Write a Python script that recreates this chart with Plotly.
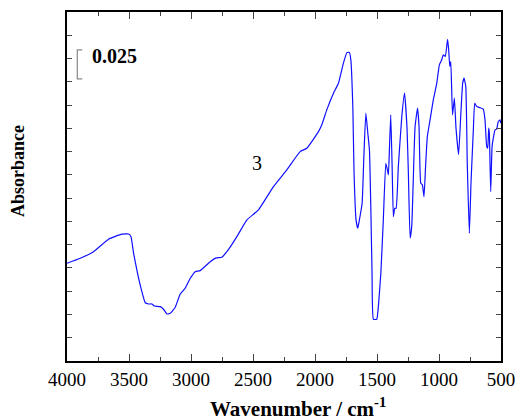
import plotly.graph_objects as go

wavenumber = [4000, 3893, 3786, 3665, 3557, 3504, 3484, 3463, 3431, 3396, 3369, 3342, 3315, 3296,
              3248, 3222, 3194, 3168, 3127, 3087, 3047, 3006, 2966, 2926, 2845, 2797, 2751, 2700,
              2630, 2549, 2456, 2335, 2227, 2120, 2066, 1972, 1945, 1905, 1851, 1811, 1771, 1743,
              1723, 1711, 1695, 1685, 1669, 1655, 1642, 1620, 1606, 1590, 1574, 1561, 1550, 1540,
              1529, 1502, 1489, 1469, 1449, 1429, 1416, 1408, 1400, 1389, 1378, 1368, 1357, 1346,
              1328, 1300, 1278, 1258, 1247, 1233, 1220, 1209, 1193, 1173, 1161, 1147, 1134, 1121,
              1107, 1094, 1072, 1046, 1018, 997, 978, 965, 949, 931, 922, 913, 905, 891, 876, 863,
              842, 825, 809, 798, 784, 772, 755, 742, 731, 723, 712, 696, 669, 643, 629, 615, 607,
              599, 594, 583, 572, 562, 548, 535, 522, 508, 502]
absorbance = [0.0840, 0.0883, 0.0940, 0.1047, 0.1090, 0.1092, 0.1069, 0.0926, 0.0754, 0.0596,
              0.0501, 0.0490, 0.0490, 0.0473, 0.0467, 0.0445, 0.0404, 0.0410, 0.0462, 0.0576,
              0.0625, 0.0711, 0.0768, 0.0777, 0.0854, 0.0886, 0.0892, 0.0955, 0.1069, 0.1213,
              0.1299, 0.1499, 0.1643, 0.1800, 0.1829, 0.1972, 0.2030, 0.2159, 0.2302, 0.2388,
              0.2560, 0.2651, 0.2653, 0.2589, 0.2187, 0.1614, 0.1213, 0.1141, 0.1213, 0.1356,
              0.1757, 0.2130, 0.1958, 0.1815, 0.1327, 0.0754, 0.0359, 0.0359, 0.0467, 0.0754,
              0.1213, 0.1700, 0.1643, 0.1600, 0.1815, 0.2116, 0.1671, 0.1241, 0.1313, 0.1313,
              0.1671, 0.2101, 0.2302, 0.2004, 0.1614, 0.1058, 0.1155, 0.1499, 0.2015, 0.2173,
              0.2015, 0.1528, 0.1514, 0.1413, 0.1700, 0.1929, 0.2073, 0.2245, 0.2388, 0.2546,
              0.2589, 0.2632, 0.2617, 0.2765, 0.2675, 0.2531, 0.2574, 0.2116, 0.2259, 0.2004,
              0.1776, 0.2101, 0.2388, 0.2431, 0.2359, 0.1700, 0.1098, 0.1528, 0.1800, 0.1987,
              0.2216, 0.2187, 0.2178, 0.2165, 0.2073, 0.1843, 0.1829, 0.2001, 0.1958, 0.1456,
              0.1843, 0.1915, 0.1987, 0.1993, 0.2058, 0.2073, 0.2044]

x_ticks = [4000, 3500, 3000, 2500, 2000, 1500, 1000, 500]
scale_value = 0.025
scale_bottom = 0.2425
curve_label = "3"
x_title = "<b>Wavenumber / cm<sup>-1</sup></b>"
y_title = "<b>Absorbance</b>"

serif = "Liberation Serif, Times New Roman, serif"

fig = go.Figure()
fig.add_trace(go.Scatter(x=wavenumber, y=absorbance, mode="lines", line_shape="spline",
                         line=dict(color="#1010ff", width=1.2, smoothing=0.4), showlegend=False))

# scale bar bracket
sx0, sx1 = 3917, 3877
fig.add_shape(type="path", xref="x", yref="y",
              path=f"M {sx1},{scale_bottom} L {sx0},{scale_bottom} L {sx0},{scale_bottom + scale_value} L {sx1},{scale_bottom + scale_value}",
              line=dict(color="#888888", width=1.2))
fig.add_annotation(x=3815, y=scale_bottom + scale_value * 0.8, text=f"<b>{scale_value}</b>",
                   showarrow=False, xanchor="left", yanchor="middle",
                   font=dict(family=serif, size=20, color="black"))
fig.add_annotation(x=2466, y=0.170, text=curve_label, showarrow=False,
                   font=dict(family=serif, size=20, color="black"))

# axis titles
fig.add_annotation(xref="paper", yref="paper", x=0.532, y=-0.132, text=x_title,
                   showarrow=False, xanchor="center", yanchor="middle",
                   font=dict(family=serif, size=21, color="black"))
fig.add_annotation(xref="paper", yref="paper", x=-0.113, y=0.544, text=y_title,
                   showarrow=False, textangle=-90, xanchor="center", yanchor="middle",
                   font=dict(family=serif, size=18, color="black"))

fig.update_layout(
    width=515, height=420,
    margin=dict(l=67, r=14, t=12, b=59, autoexpand=False),
    paper_bgcolor="white", plot_bgcolor="white",
    font=dict(family=serif, color="black"),
    xaxis=dict(range=[4000, 500], tickvals=x_ticks, ticks="inside", ticklen=7, tickwidth=1.2,
               showline=True, linecolor="black", linewidth=1.5, mirror="ticks",
               showgrid=False, zeroline=False, ticklabeloverflow="allow", automargin=False,
               minor=dict(ticks="inside", dtick=250, ticklen=4, tickwidth=1.2, showgrid=False),
               tickfont=dict(family=serif, size=19, color="black")),
    yaxis=dict(range=[0, 0.30], dtick=0.02, ticks="inside", ticklen=5, tickwidth=1.2,
               showline=True, linecolor="black", linewidth=1.5, mirror="ticks",
               showgrid=False, zeroline=False, showticklabels=False, automargin=False),
)

fig.write_html("out.html")
